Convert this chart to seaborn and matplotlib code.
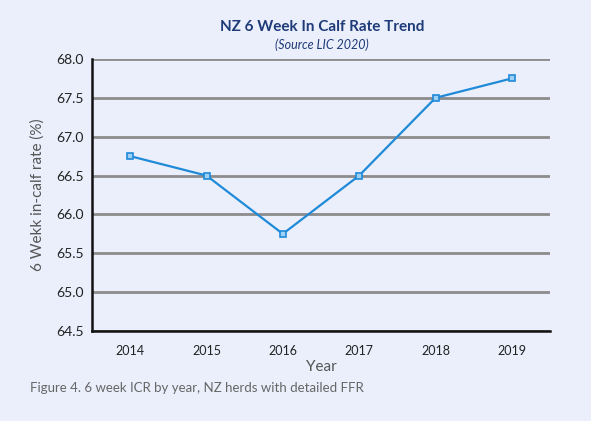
import matplotlib.pyplot as plt
import seaborn as sns
import numpy as np

years = ['2014', '2015', '2016', '2017', '2018', '2019']
icr = [66.75, 66.5, 65.75, 66.5, 67.5, 67.75]

bg = '#eaeffb'
sns.set_style('white')
plt.rcParams['font.family'] = ['Lato', 'DejaVu Sans']

fig = plt.figure(figsize=(5.91, 4.21), dpi=100, facecolor=bg)
ax = fig.add_axes([92 / 591, 1 - 331 / 421, 458 / 591, 272 / 421])
ax.set_facecolor(bg)

x = np.arange(len(years))
sns.lineplot(x=x, y=icr, ax=ax, color='#1f8ad8', linewidth=1.6,
             marker='s', markersize=4.5, markerfacecolor='#9fd0f5',
             markeredgecolor='#1f8ad8', markeredgewidth=1.2)

ax.set_xlim(-0.5, 5.5)
ax.set_ylim(64.5, 68.0)
ax.set_yticks(np.arange(64.5, 68.01, 0.5))
ax.yaxis.grid(True, color='#8c8c8c', linewidth=2)
ax.set_axisbelow(True)
ax.set_xticks(x)
ax.set_xticklabels(years)
ax.set_xticks(np.arange(-0.5, 5.6, 1), minor=True)
ax.tick_params(axis='x', which='major', length=0, labelsize=9, pad=10)
ax.tick_params(axis='x', which='minor', length=5, width=1.5, direction='in', color='#111111')
ax.tick_params(axis='y', length=0, labelsize=10, pad=6)
for lab in ax.get_yticklabels() + ax.get_xticklabels():
    lab.set_color('#222222')
for s in ['top', 'right']:
    ax.spines[s].set_visible(False)
for s in ['left', 'bottom']:
    ax.spines[s].set_color('#111111')
    ax.spines[s].set_linewidth(1.8)

ax.set_xlabel('Year', fontsize=11, color='#555555', labelpad=2)
ax.set_ylabel('6 Wekk in-calf rate (%)', fontsize=11, color='#555555', labelpad=8)

fig.text(0.545, 1 - 27 / 421, 'NZ 6 Week In Calf Rate Trend', ha='center', va='center',
         fontsize=11, fontweight='bold', color='#1e3a78')
fig.text(0.545, 1 - 45 / 421, '(Source LIC 2020)', ha='center', va='center',
         fontsize=9, style='italic', color='#1e3a78')
fig.text(30 / 591, 1 - 388 / 421, 'Figure 4. 6 week ICR by year, NZ herds with detailed FFR',
         ha='left', va='center', fontsize=9.5, color='#666666')

fig.savefig('out.png', dpi=100, facecolor=bg)
